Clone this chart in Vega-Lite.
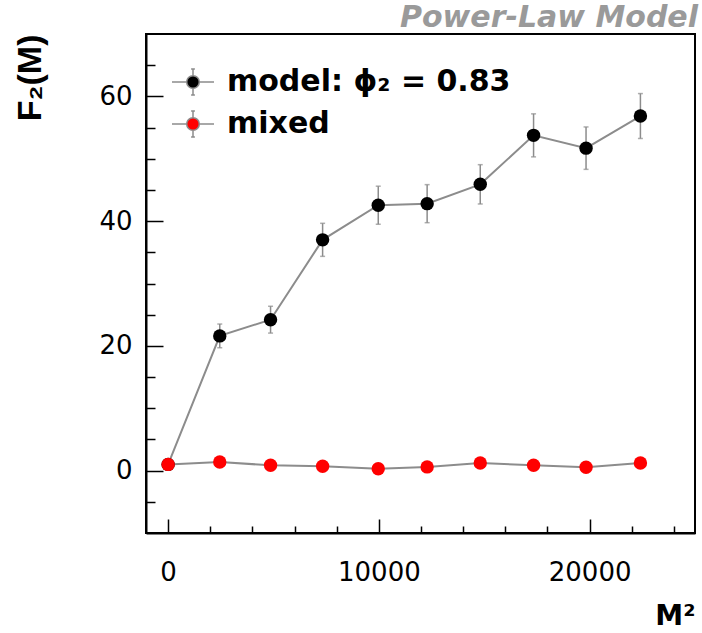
{
  "$schema": "https://vega.github.io/schema/vega-lite/v6.json",
  "width": 549,
  "height": 499,
  "autosize": "none",
  "padding": {"left": 146, "top": 34, "right": 7, "bottom": 100},
  "background": "white",
  "title": {
    "text": "Power-Law Model",
    "anchor": "end",
    "frame": "group",
    "font": "DejaVu Sans",
    "fontSize": 30,
    "fontWeight": "bold",
    "fontStyle": "italic",
    "color": "#9a9a9a",
    "baseline": "alphabetic",
    "offset": 9,
    "dx": 3,
    "dy": 32
  },
  "config": {
    "view": {"stroke": "black", "strokeWidth": 2},
    "axis": {
      "domainColor": "black",
      "domainWidth": 2,
      "tickColor": "black",
      "tickWidth": 1.5,
      "grid": false,
      "labelColor": "black",
      "labelFont": "DejaVu Sans",
      "labelFontSize": 26,
      "labelOverlap": false,
      "labelFlush": false,
      "labelBound": false,
      "titleColor": "black"
    }
  },
  "data": {
    "values": [
      {"m2": 0, "f": 1.0, "err": 0.3, "s": "model: ϕ₂ = 0.83"},
      {"m2": 2450, "f": 21.6, "err": 1.9, "s": "model: ϕ₂ = 0.83"},
      {"m2": 4860, "f": 24.2, "err": 2.15, "s": "model: ϕ₂ = 0.83"},
      {"m2": 7330, "f": 37.0, "err": 2.65, "s": "model: ϕ₂ = 0.83"},
      {"m2": 9970, "f": 42.55, "err": 3.05, "s": "model: ϕ₂ = 0.83"},
      {"m2": 12290, "f": 42.8, "err": 3.05, "s": "model: ϕ₂ = 0.83"},
      {"m2": 14810, "f": 45.9, "err": 3.15, "s": "model: ϕ₂ = 0.83"},
      {"m2": 17340, "f": 53.75, "err": 3.45, "s": "model: ϕ₂ = 0.83"},
      {"m2": 19830, "f": 51.7, "err": 3.4, "s": "model: ϕ₂ = 0.83"},
      {"m2": 22410, "f": 56.85, "err": 3.6, "s": "model: ϕ₂ = 0.83"},
      {"m2": 0, "f": 1.0, "err": 0.3, "s": "mixed"},
      {"m2": 2450, "f": 1.38, "err": 0.3, "s": "mixed"},
      {"m2": 4860, "f": 0.85, "err": 0.3, "s": "mixed"},
      {"m2": 7330, "f": 0.7, "err": 0.3, "s": "mixed"},
      {"m2": 9970, "f": 0.3, "err": 0.3, "s": "mixed"},
      {"m2": 12290, "f": 0.6, "err": 0.3, "s": "mixed"},
      {"m2": 14810, "f": 1.23, "err": 0.3, "s": "mixed"},
      {"m2": 17340, "f": 0.85, "err": 0.3, "s": "mixed"},
      {"m2": 19830, "f": 0.55, "err": 0.3, "s": "mixed"},
      {"m2": 22410, "f": 1.23, "err": 0.3, "s": "mixed"}
    ]
  },
  "encoding": {
    "x": {
      "field": "m2",
      "type": "quantitative",
      "scale": {"domain": [-1050, 25000], "nice": false, "zero": false},
      "axis": {
        "title": "M²",
        "titleFont": "DejaVu Sans",
        "titleFontSize": 28,
        "titleFontWeight": "bold",
        "titleAnchor": "end",
        "titleAlign": "right",
        "titleBaseline": "alphabetic",
        "titleX": 549,
        "titleY": 91,
        "values": [0, 2000, 4000, 6000, 8000, 10000, 12000, 14000, 16000, 18000, 20000, 22000, 24000],
        "format": "d",
        "labelExpr": "datum.value % 10000 === 0 ? datum.label : ''",
        "tickSize": {"condition": {"test": "datum.value % 10000 === 0", "value": -14}, "value": -7},
        "labelPadding": 40
      }
    },
    "y": {
      "field": "f",
      "type": "quantitative",
      "scale": {"domain": [-10, 70], "nice": false, "zero": false},
      "axis": {
        "title": "F₂(M)",
        "titleFont": "Liberation Sans",
        "titleFontSize": 34,
        "titleFontWeight": "bold",
        "titleAngle": 270,
        "titleAlign": "right",
        "titleBaseline": "middle",
        "titleX": -116,
        "titleY": 0,
        "values": [-5, 0, 5, 10, 15, 20, 25, 30, 35, 40, 45, 50, 55, 60, 65],
        "format": "d",
        "labelExpr": "datum.value % 20 === 0 ? datum.label : ''",
        "tickSize": {"condition": {"test": "datum.value % 20 === 0", "value": -17}, "value": -9},
        "labelPadding": 31
      }
    }
  },
  "layer": [
    {
      "mark": {"type": "line", "color": "#8c8c8c", "strokeWidth": 2},
      "encoding": {"detail": {"field": "s", "type": "nominal"}}
    },
    {
      "mark": {"type": "errorbar", "color": "#8c8c8c", "thickness": 1.5, "ticks": {"size": 5}},
      "encoding": {"yError": {"field": "err"}}
    },
    {
      "mark": {"type": "point", "filled": true, "opacity": 1, "size": 180},
      "encoding": {
        "color": {
          "field": "s",
          "type": "nominal",
          "scale": {"domain": ["model: ϕ₂ = 0.83", "mixed"], "range": ["#000000", "#ff0000"]},
          "legend": {
            "orient": "none",
            "legendX": 25,
            "legendY": 26,
            "title": null,
            "padding": 0,
            "symbolType": "M-1,0L-0.3,0M0.3,0L1,0M0,-0.62L0,-0.3M0,0.3L0,0.62M-0.09,-0.62L0.09,-0.62M-0.09,0.62L0.09,0.62M-0.3,0A0.3,0.3,0,1,1,0.3,0A0.3,0.3,0,1,1,-0.3,0Z",
            "symbolSize": 1764,
            "symbolStrokeColor": "#8c8c8c",
            "symbolStrokeWidth": 1.5,
            "symbolOpacity": 1,
            "labelFont": "DejaVu Sans",
            "labelFontSize": 30,
            "labelFontWeight": "bold",
            "labelColor": "black",
            "labelOffset": 12,
            "labelLimit": 500,
            "rowPadding": 3
          }
        }
      }
    }
  ]
}
